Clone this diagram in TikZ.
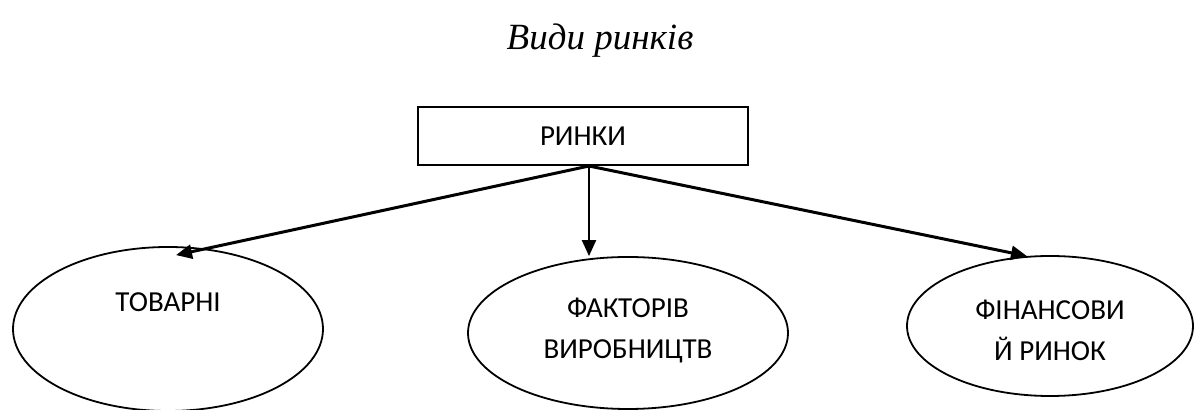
\documentclass[tikz,border=0pt]{standalone}
\usepackage{fontspec}
\setmainfont{Carlito}
\newfontfamily\titlefont{Liberation Serif}
\usepackage{tikz}
\usetikzlibrary{calc,shapes.geometric,arrows.meta}
\tikzset{
  % box and ellipse styles for the scheme
  market box/.style={rectangle,draw,line width=1pt,minimum width=165pt,minimum height=29pt,inner sep=0},
  kind node/.style={ellipse,draw,line width=0.9pt,inner sep=0},
  label text/.style={font=\fontsize{14.5}{20.5}\selectfont,align=center,inner sep=0},
  branch/.style={line width=1.5pt,-{Triangle[length=8pt,width=7pt]}}
}
\begin{document}
\begin{tikzpicture}[x=0.5pt,y=-0.5pt]
  \useasboundingbox (0,0) rectangle (1200,410);
  % title
  \node(title) at (600,41) {\titlefont\itshape\fontsize{18.5}{22}\selectfont Види ринків};
  % top box
  \node(rynky)[market box] at (583,136) {};
  \node[label text] at (rynky) {РИНКИ};
  % the three kinds
  \node(tov)[kind node,minimum width=155pt,minimum height=82pt] at (168,329) {};
  \node(fak)[kind node,minimum width=160pt,minimum height=76pt] at (628,333) {};
  \node(fin)[kind node,minimum width=143pt,minimum height=70pt] at (1050,326) {};
  \node[label text] at ($(tov)+(0,-27)$) {ТОВАРНІ};
  \node[label text] at ($(fak)+(0,-2)$) {ФАКТОРІВ\\ВИРОБНИЦТВ};
  \node[label text] at ($(fin)+(0,4)$) {ФІНАНСОВИ\\Й РИНОК};
  % arrows
  \coordinate(fork) at ($(rynky.south)+(6,0)$);
  \draw[branch] (fork) -- ($(tov.north)+(8,9)$);
  \draw[branch,line width=1.1pt] (fork) -- (fork |- fak.north);
  \draw[branch] (fork) -- ($(fin.north)+(-23,1)$);
\end{tikzpicture}
\end{document}
